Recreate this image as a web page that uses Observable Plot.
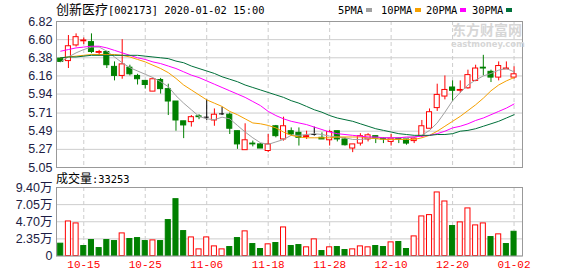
<!DOCTYPE html>
<html><head><meta charset="utf-8">
<script src="https://cdn.jsdelivr.net/npm/d3@7"></script>
<script src="https://cdn.jsdelivr.net/npm/@observablehq/plot@0.6"></script>
<style>
body{margin:0;background:#fff;}
#wrap{position:relative;width:578px;height:276px;overflow:hidden;background:#fff;}
#wrap svg{position:absolute;left:0;overflow:visible;background:transparent;}
.abs{position:absolute;white-space:nowrap;}
.mono{font-family:'DejaVu Sans Mono',monospace;font-size:10.4px;}
.cjk{font-family:'Noto Sans CJK SC',sans-serif;}
</style></head><body><div id="wrap"></div>
<script>
const dates = ["10-10","10-11","10-14","10-15","10-16","10-17","10-18","10-21","10-22","10-23","10-24","10-25","10-28","10-29","10-30","10-31","11-01","11-04","11-05","11-06","11-07","11-08","11-11","11-12","11-13","11-14","11-15","11-18","11-19","11-20","11-21","11-22","11-25","11-26","11-27","11-28","11-29","12-02","12-03","12-04","12-05","12-06","12-09","12-10","12-11","12-12","12-13","12-16","12-17","12-18","12-19","12-20","12-23","12-24","12-25","12-26","12-27","12-30","12-31","01-02"];
const open = [6.37,6.34,6.53,6.58,6.57,6.44,6.45,6.27,6.16,6.26, 6.16,6.10,5.97,6.11,6.00,5.85,5.61,5.60,5.67,5.66, 5.62,5.70,5.69,5.49,5.26,5.34,5.33,5.25,5.55,5.39, 5.49,5.47,5.42,5.45,5.41,5.38,5.49,5.39,5.28,5.34, 5.39,5.43,5.40,5.36,5.40,5.39,5.37,5.43,5.52,5.77, 5.91,6.02,5.98,6.01,6.10,6.26,6.21,6.14,6.24,6.14];
const high = [6.38,6.65,6.67,6.62,6.67,6.47,6.46,6.33,6.60,6.29, 6.18,6.10,6.12,6.13,6.06,5.85,5.61,5.68,5.69,5.87, 5.76,5.78,5.71,5.49,5.58,5.37,5.34,5.45,5.56,5.66, 5.53,5.53,5.49,5.54,5.47,5.50,5.49,5.41,5.33,5.46, 5.46,5.43,5.41,5.45,5.41,5.39,5.41,5.62,5.76,6.06, 6.16,6.10,6.10,6.23,6.29,6.41,6.23,6.33,6.33,6.27];
const low = [6.33,6.25,6.51,6.54,6.43,6.40,6.25,6.10,6.12,6.16, 6.05,6.00,5.97,5.94,5.68,5.49,5.40,5.54,5.63,5.62, 5.55,5.68,5.45,5.27,5.26,5.30,5.28,5.23,5.41,5.37, 5.43,5.31,5.39,5.43,5.39,5.31,5.36,5.31,5.23,5.31, 5.36,5.34,5.34,5.31,5.34,5.32,5.34,5.41,5.52,5.73, 5.87,5.85,5.95,6.00,6.09,6.16,6.08,6.10,6.24,6.12];
const close = [6.33,6.52,6.63,6.59,6.45,6.45,6.29,6.16,6.30,6.18, 6.12,6.05,6.12,6.00,5.85,5.62,5.56,5.66,5.66,5.66, 5.69,5.70,5.52,5.33,5.38,5.33,5.28,5.33,5.43,5.55, 5.45,5.41,5.43,5.45,5.39,5.48,5.39,5.32,5.33,5.43, 5.44,5.40,5.39,5.40,5.39,5.34,5.40,5.55,5.72,5.93, 5.99,5.98,5.99,6.17,6.25,6.25,6.14,6.28,6.25,6.18];
const volume = [16900,47400,44700,13700,21900,10900,21900,20500,31000,23300, 24600,20500,21400,20500,49300,78000,34200,25500,9100,25500, 13200,9100,12300,24600,33800,16400,9600,16000,17800,39200, 13700,15000,11900,22800,6800,11900,12300,8200,9100,13200, 11900,13700,12300,18700,19200,9600,26900,54300,56100,87200, 74800,41100,46100,65300,42000,44700,26000,29700,16400,33253];
const volumeUp = [0,1,1,0,0,0,0,0,1,0, 0,0,1,0,0,0,0,1,1,1, 1,1,0,0,1,0,0,1,0,1, 0,0,1,1,0,1,0,0,1,1, 1,0,0,1,0,0,1,1,1,1, 1,0,1,1,1,1,0,1,0,0];
const ma5 = [6.33,6.39,6.44,6.48,6.51,6.51,6.46,6.39,6.32,6.26, 6.22,6.18,6.14,6.09,6.03,5.92,5.83,5.75,5.67,5.64, 5.63,5.66,5.64,5.56,5.48,5.41,5.35,5.33,5.36,5.39, 5.44,5.44,5.45,5.46,5.45,5.43,5.42,5.41,5.39,5.39, 5.40,5.41,5.41,5.41,5.41,5.41,5.42,5.44,5.50,5.59, 5.72,5.86,5.96,6.05,6.11,6.16,6.19,6.23,6.25,6.21];
const ma10 = [6.38,6.39,6.40,6.41,6.42,6.42,6.42,6.42,6.41,6.39, 6.36,6.33,6.29,6.25,6.20,6.13,6.05,5.99,5.93,5.87, 5.83,5.79,5.73,5.69,5.64,5.59,5.58,5.56,5.53,5.48, 5.44,5.42,5.41,5.41,5.41,5.41,5.42,5.42,5.42,5.42, 5.41,5.40,5.39,5.39,5.39,5.39,5.39,5.41,5.44,5.49, 5.55,5.61,5.67,5.74,5.81,5.89,5.98,6.05,6.10,6.14];
const ma20 = [6.46,6.48,6.50,6.51,6.52,6.52,6.50,6.47,6.44,6.41, 6.38,6.36,6.33,6.31,6.28,6.25,6.21,6.17,6.14,6.10, 6.06,6.02,5.98,5.94,5.90,5.85,5.80,5.73,5.68,5.64, 5.61,5.59,5.57,5.54,5.51,5.48,5.46,5.45,5.44,5.43, 5.42,5.42,5.41,5.41,5.41,5.42,5.42,5.43,5.44,5.46, 5.49,5.53,5.55,5.58,5.62,5.65,5.69,5.73,5.77,5.82];
const ma30 = [6.38,6.39,6.39,6.40,6.41,6.41,6.41,6.41,6.41,6.41, 6.41,6.40,6.39,6.38,6.37,6.34,6.32,6.28,6.25,6.22, 6.19,6.15,6.12,6.09,6.05,6.02,5.99,5.96,5.93,5.90, 5.86,5.83,5.79,5.75,5.72,5.68,5.65,5.63,5.61,5.58, 5.55,5.52,5.50,5.48,5.46,5.45,5.44,5.44,5.44,5.45, 5.45,5.46,5.49,5.50,5.52,5.55,5.58,5.61,5.65,5.69];
const priceTicks = [5.05,5.27,5.49,5.71,5.94,6.16,6.38,6.60,6.82];
const volumeTicks = [0,23500,47000,70500,94000];
const dateTicks = ["10-15","10-25","11-06","11-18","11-28","12-10","12-20","01-02"];
const maNames = ["5PMA","10PMA","20PMA","30PMA"];
const maColors = ["#a0a0a0","#f5a000","#ff00ff","#00703a"];
const stockName = "创新医疗";
const stockCode = "002173";
const stamp = "2020-01-02 15:00";

const RED = "#ff0000", GREEN = "#008000", INK = "#1c1c44";
const W = 578, half = 0.33;
const xDomain = [-0.55, 60.1];
const rows = dates.map((date, i) => ({i, date, open: open[i], high: high[i], low: low[i], close: close[i], volume: volume[i], up: volumeUp[i] === 1}));
const tickIdx = dateTicks.map(t => dates.indexOf(t));
const cColor = d => d.close > d.open ? RED : d.close < d.open ? GREEN : "#000";
const grid = {stroke: "#cdcdcd", strokeOpacity: 1};
const dash = {stroke: "#cdcdcd", strokeOpacity: 1, strokeDasharray: "4,3"};

const price = Plot.plot({
  width: W, height: 172, marginLeft: 56, marginRight: 56, marginTop: 21, marginBottom: 5,
  x: {domain: xDomain, axis: null},
  y: {domain: [5.05, 6.82], axis: null},
  color: {type: "identity"},
  style: {background: "transparent", overflow: "visible"},
  marks: [
    Plot.gridY(priceTicks, grid),
    Plot.gridX(tickIdx, dash),
    Plot.ruleX(rows, {x: "i", y1: "low", y2: "high", stroke: cColor}),
    Plot.rect(rows, {x1: d => d.i - half, x2: d => d.i + half, y1: "open", y2: "close",
      fill: d => d.close > d.open ? "#fff" : cColor(d), stroke: cColor}),
    Plot.ruleY(rows.filter(d => Math.abs(d.close - d.open) < 0.005), {y: "close", x1: d => d.i - half, x2: d => d.i + half, stroke: cColor}),
    ...[ma5, ma10, ma20, ma30].map((s, k) => Plot.line(s, {x: (d, i) => i, y: d => d, stroke: maColors[k], strokeWidth: 1})),
    Plot.frame({stroke: "#999"}),
    Plot.axisY(priceTicks, {tickSize: 0, tickPadding: 4, tickFormat: d => d.toFixed(2), color: INK, fontSize: 12.5, fontFamily: "Liberation Sans, Arial, sans-serif", label: null})
  ]
});
price.style.top = "0px";

const vol = Plot.plot({
  width: W, height: 104, marginLeft: 56, marginRight: 56, marginTop: 15, marginBottom: 20.5,
  x: {domain: xDomain, axis: null},
  y: {domain: [0, 94000], axis: null},
  color: {type: "identity"},
  style: {background: "transparent", overflow: "visible"},
  marks: [
    Plot.gridY(volumeTicks, grid),
    Plot.gridX(tickIdx, dash),
    Plot.rect(rows, {x1: d => d.i - half, x2: d => d.i + half, y1: () => 0, y2: "volume",
      fill: d => d.up ? "#fff" : GREEN, stroke: d => d.up ? RED : GREEN}),
    Plot.frame({stroke: "#999"}),
    Plot.axisY(volumeTicks, {tickSize: 0, tickPadding: 4, tickFormat: v => v === 0 ? "0" : (v / 10000).toFixed(2) + "万", color: INK, fontSize: 12.5, fontFamily: "Liberation Sans, 'Noto Sans CJK SC', sans-serif", label: null}),
    Plot.axisX(tickIdx, {tickSize: 0, tickPadding: 4, tickFormat: i => dates[i], color: RED, fontSize: 11, fontFamily: "Liberation Mono, monospace", label: null})
  ]
});
vol.style.top = "172px";

const wrap = document.getElementById("wrap");
wrap.appendChild(price);
wrap.appendChild(vol);

const add = (html, style) => { const d = document.createElement("div"); d.className = "abs"; d.setAttribute("style", style); d.innerHTML = html; wrap.appendChild(d); return d; };
add(`<span class="cjk" style="font-size:13px">${stockName}</span><span class="mono">[${stockCode}] ${stamp}</span>`, "left:56px;top:0px;height:17px;line-height:17px;color:#000;");
const legendX = [338, 381, 426, 472];
maNames.forEach((n, k) => {
  add(`<span class="mono">${n}</span><span style="display:inline-block;width:6px;height:4px;background:${maColors[k]};margin-left:3px;vertical-align:2px"></span>`, `left:${legendX[k]}px;top:0px;height:17px;line-height:17px;color:#000;`);
});
add("东方财富网", "left:452px;top:22px;height:14px;line-height:14px;font:bold 14px/14px 'Noto Sans CJK SC';color:#d6d6d6;letter-spacing:0px;");
add("eastmoney.com", "left:451px;top:40px;height:9px;line-height:9px;font:bold 8.4px/9px 'DejaVu Sans';color:#d6d6d6;");
add(`<span class="cjk" style="font-size:12px">成交量</span><span class="mono">:${volume[volume.length - 1]}</span>`, "left:56px;top:169px;height:17px;line-height:17px;color:#000;");
</script></body></html>
